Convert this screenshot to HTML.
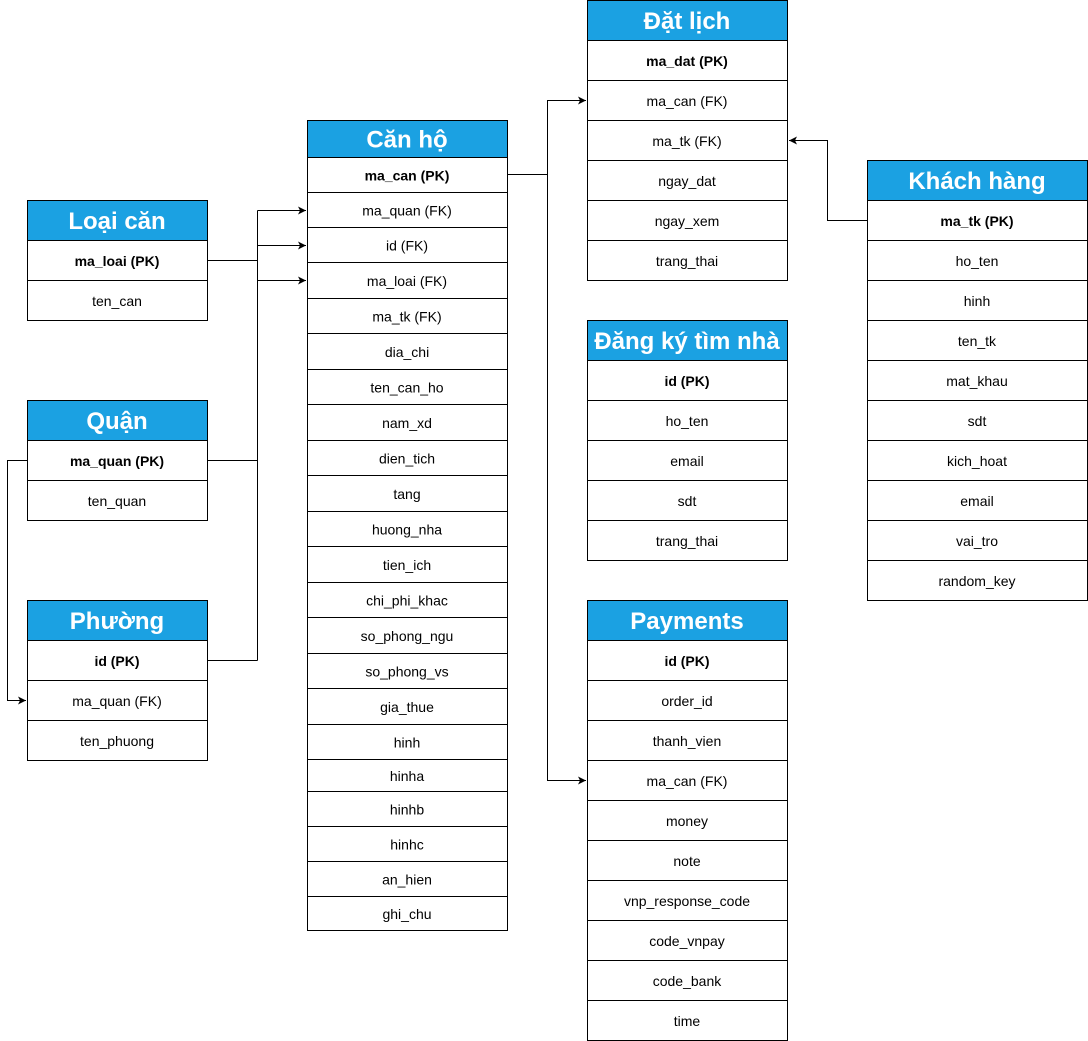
<!DOCTYPE html>
<html><head><meta charset="utf-8"><style>
html,body{margin:0;padding:0;background:#fff;}
svg{display:block;}
text{font-family:"Liberation Sans",sans-serif;}
.h{fill:#fff;font-weight:bold;font-size:24px;}
.r{fill:#000;font-size:14px;}
.b{font-weight:bold;}
</style></head><body>
<svg id="s" width="1088" height="1041" viewBox="0 0 1088 1041" xmlns="http://www.w3.org/2000/svg">
<defs><marker id="a" markerWidth="9" markerHeight="9" refX="8" refY="4.5" orient="auto" markerUnits="userSpaceOnUse"><path d="M0,0.5 L8,4.5 L0,8.5 L2,4.5 Z" fill="#000"/></marker></defs>
<g fill="none" stroke="#000" stroke-width="1">
<path d="M207.5,260.5 H257.5"/>
<path d="M257.5,210.5 V660.5"/>
<path d="M207.5,460.5 H257.5"/>
<path d="M207.5,660.5 H257.5"/>
<path d="M257.5,210.5 H306" marker-end="url(#a)"/>
<path d="M257.5,245.5 H306" marker-end="url(#a)"/>
<path d="M257.5,280.5 H306" marker-end="url(#a)"/>
<path d="M27.5,460.5 H7.5 V700.5 H26" marker-end="url(#a)"/>
<path d="M507.5,174.5 H547.5 V100.5 H586" marker-end="url(#a)"/>
<path d="M547.5,174.5 V780.5 H586" marker-end="url(#a)"/>
<path d="M867.5,220.5 H827.5 V140.5 H789" marker-end="url(#a)"/>
</g>
<g id="t"></g>
</svg>
<script>
var T=[
[27,180,"Loại căn",200,240,["ma_loai (PK)","ten_can"],null],
[27,180,"Quận",400,440,["ma_quan (PK)","ten_quan"],null],
[27,180,"Phường",600,640,["id (PK)","ma_quan (FK)","ten_phuong"],null],
[587,200,"Đặt lịch",0,40,["ma_dat (PK)","ma_can (FK)","ma_tk (FK)","ngay_dat","ngay_xem","trang_thai"],null],
[587,200,"Đăng ký tìm nhà",320,360,["id (PK)","ho_ten","email","sdt","trang_thai"],null],
[587,200,"Payments",600,640,["id (PK)","order_id","thanh_vien","ma_can (FK)","money","note","vnp_response_code","code_vnpay","code_bank","time"],null],
[867,220,"Khách hàng",160,200,["ma_tk (PK)","ho_ten","hinh","ten_tk","mat_khau","sdt","kich_hoat","email","vai_tro","random_key"],null],
[307,200,"Căn hộ",120,157,["ma_can (PK)","ma_quan (FK)","id (FK)","ma_loai (FK)","ma_tk (FK)","dia_chi","ten_can_ho","nam_xd","dien_tich","tang","huong_nha","tien_ich","chi_phi_khac","so_phong_ngu","so_phong_vs","gia_thue","hinh","hinha","hinhb","hinhc","an_hien","ghi_chu"],
[157,192,227,262,298,333,369,404,440,475,511,546,582,617,653,688,724,759,791,826,861,896,930]]
];
var g=document.getElementById('t'),h='';
T.forEach(function(t){
var x=t[0],w=t[1],y0=t[3],y1=t[4],rows=t[5],b=t[6];
if(!b){b=[];for(var i=0;i<=rows.length;i++)b.push(y1+40*i);}
h+='<rect x="'+(x+.5)+'" y="'+(y0+.5)+'" width="'+w+'" height="'+(y1-y0)+'" fill="#1ba1e2" stroke="#000"/>';
h+='<text class="h" x="'+(x+w/2)+'" y="'+((y0+y1)/2+9)+'" text-anchor="middle">'+t[2]+'</text>';
rows.forEach(function(r,i){
h+='<rect x="'+(x+.5)+'" y="'+(b[i]+.5)+'" width="'+w+'" height="'+(b[i+1]-b[i])+'" fill="#fff" stroke="#000"/>';
h+='<text class="r'+(i==0?' b':'')+'" x="'+(x+w/2)+'" y="'+((b[i]+b[i+1])/2+6)+'" text-anchor="middle">'+r+'</text>';
});
});
g.innerHTML=h;
</script>
</body></html>
